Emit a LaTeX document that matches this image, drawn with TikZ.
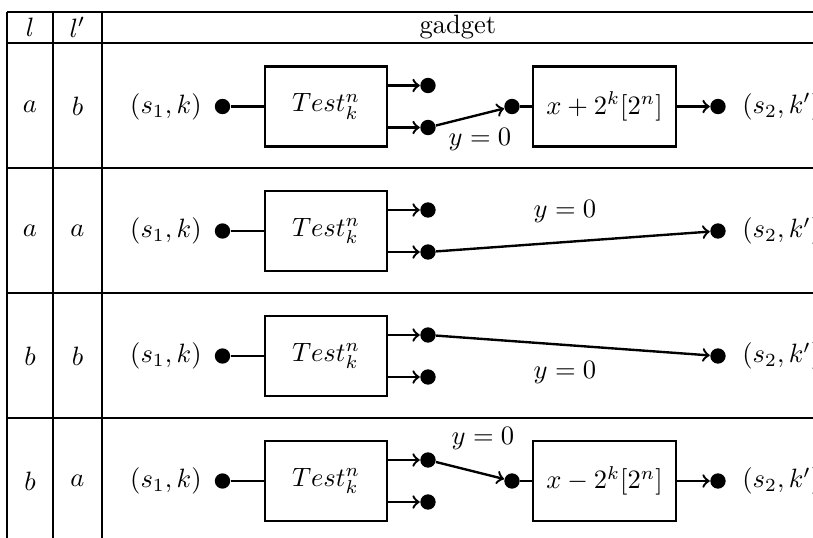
\documentclass[tikz,border=0pt]{standalone}
\begin{document}
\begin{tikzpicture}[x=0.377pt,y=-0.377pt,
  rule/.style={line width=1pt},
  wire/.style={line width=0.9pt},
  dot/.style={circle,fill,inner sep=0pt,minimum size=5.8pt},
  gate/.style={draw,line width=0.9pt,minimum width=46pt,minimum height=30.2pt,inner sep=0pt},
  adder/.style={gate,minimum width=53.9pt}]
\useasboundingbox (0,0) rectangle (813,538);
\clip (0,0) rectangle (813,538);
% table rules
\foreach \y in {12,43,168,293,418} \draw[rule] (7,\y) -- (840,\y);
\foreach \x in {7,53,102} \draw[rule] (\x,12) -- (\x,560);
% header
\node (hl) at (30,27.5) {$l$};
\node (hlp) at (77.5,27.5) {$l'$};
\node (hg) at (458,27.5) {gadget};
% common part of every row
\foreach \r/\yc/\lA/\lB in {1/106.5/a/b, 2/231/a/a, 3/356/b/b, 4/481/b/a} {
  \node (la\r) at (30,\yc) {$\lA$};
  \node (lb\r) at (77.5,\yc) {$\lB$};
  \node[dot] (s\r) at (222.5,\yc) {};
  \node[anchor=east] (in\r) at (211,\yc) {$(s_1,k)$};
  \node[gate] (t\r) at (326,\yc) {$Test^n_k$};
  \node[dot] (u\r) at (428,\yc-21) {};
  \node[dot] (d\r) at (428,\yc+21) {};
  \node[dot] (e\r) at (718,\yc) {};
  \node[anchor=west] (out\r) at (733,\yc) {$(s_2,k')$};
  \draw[wire] (s\r) -- (t\r);
  \draw[wire,->] (t\r.east |- u\r) -- (u\r);
  \draw[wire,->] (t\r.east |- d\r) -- (d\r);
}
% row 1: l = a, l' = b
\node[dot] (m1) at (512,106.5) {};
\node[adder] (g1) at (604.5,106.5) {$x+2^k[2^n]$};
\draw[wire,->] (d1) -- (m1);
\draw[wire] (m1) -- (g1);
\draw[wire,->] (g1) -- (e1);
\node (y1) at (480,140) {$y=0$};
% row 2: l = a, l' = a
\draw[wire,->] (d2) -- (e2);
\node (y2) at (565,212) {$y=0$};
% row 3: l = b, l' = b
\draw[wire,->] (u3) -- (e3);
\node (y3) at (565,373) {$y=0$};
% row 4: l = b, l' = a
\node[dot] (m4) at (512,481) {};
\node[adder] (g4) at (604.5,481) {$x-2^k[2^n]$};
\draw[wire,->] (u4) -- (m4);
\draw[wire] (m4) -- (g4);
\draw[wire,->] (g4) -- (e4);
\node (y4) at (483,439) {$y=0$};
\end{tikzpicture}
\end{document}
